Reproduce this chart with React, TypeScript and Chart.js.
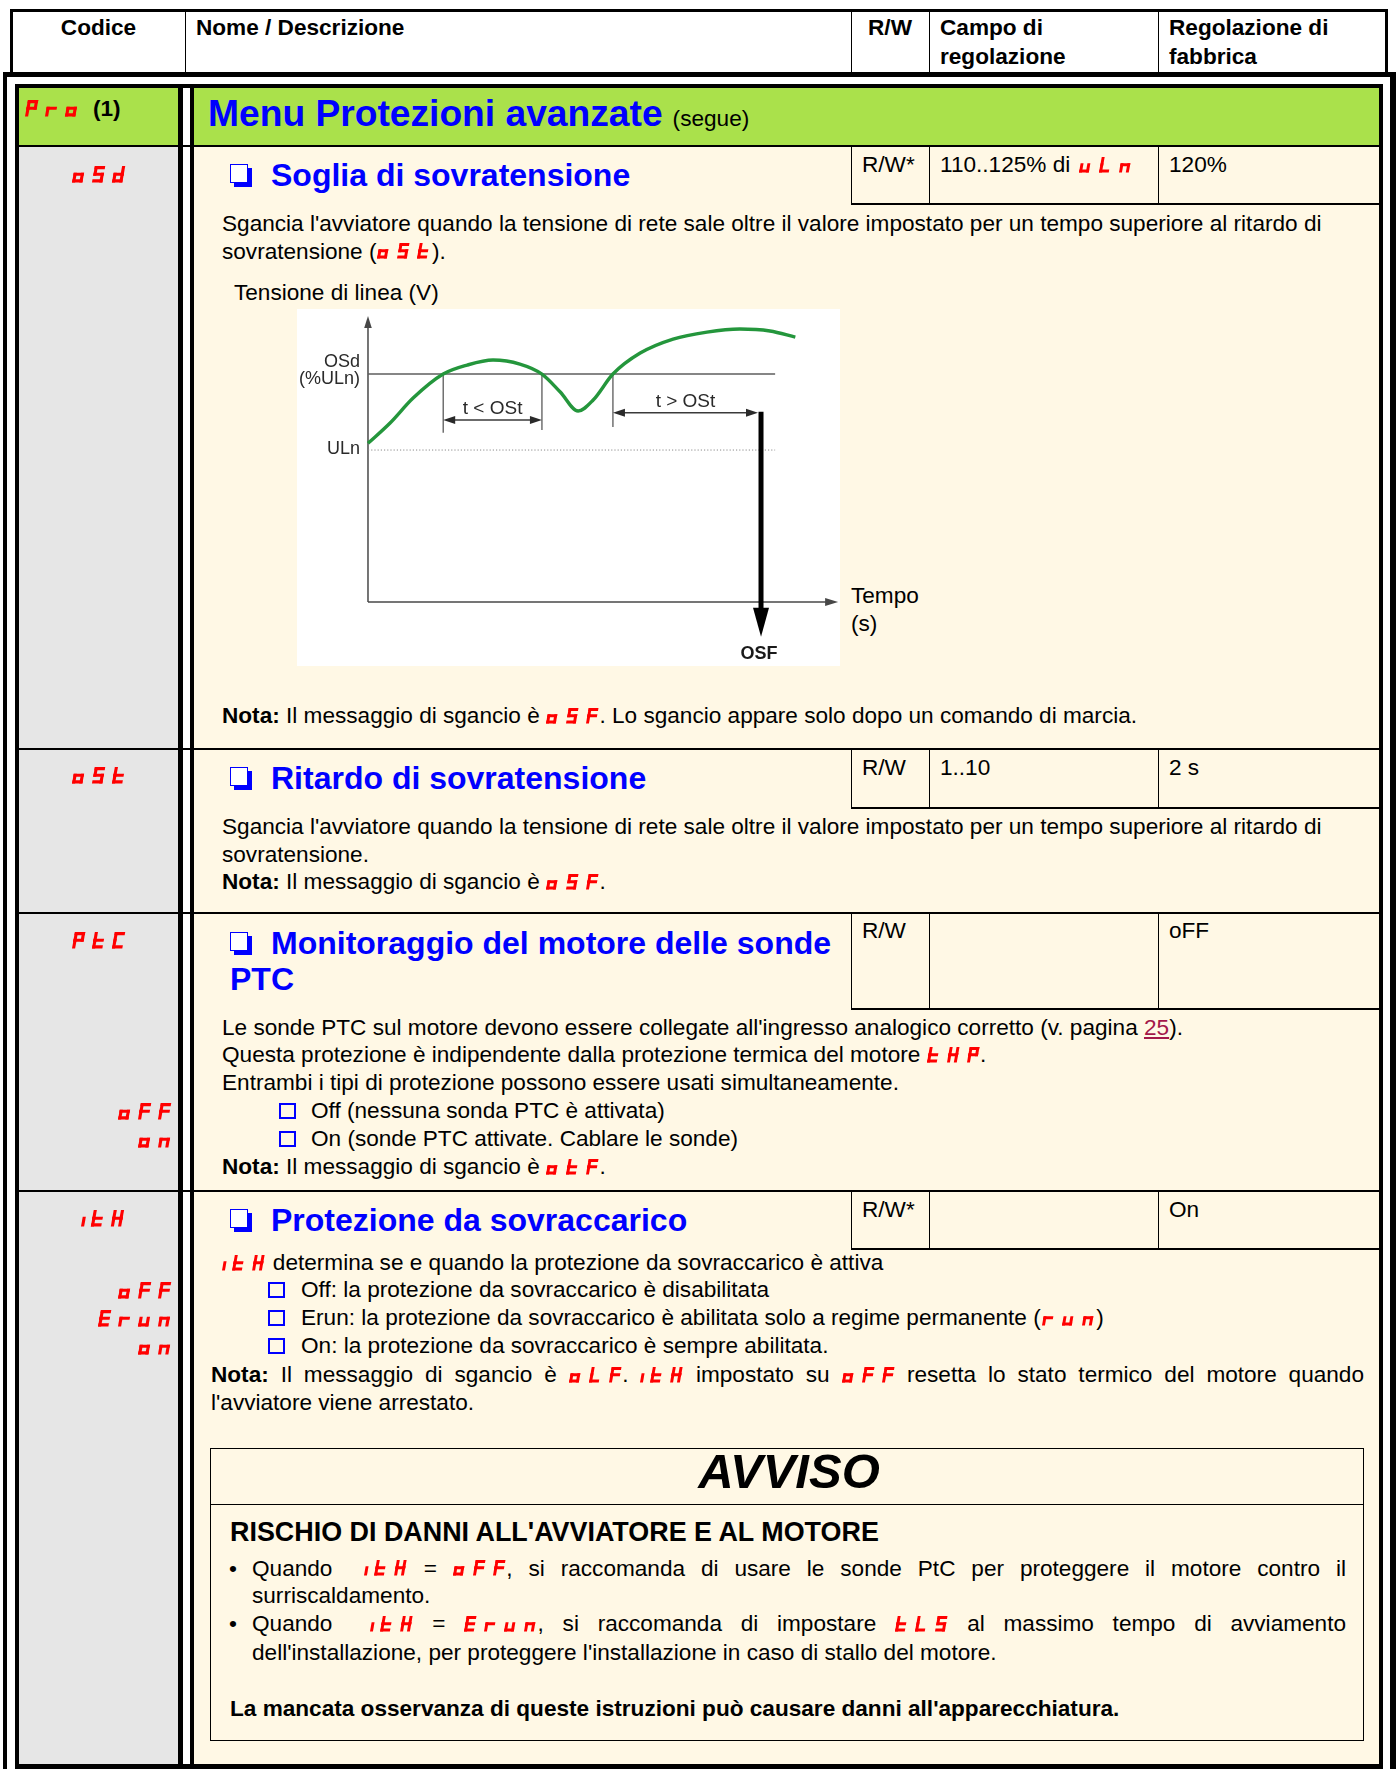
import React, { useEffect, useRef } from 'react';
import { Chart, registerables } from 'chart.js';

Chart.register(...registerables);

// ---------------- Chart data (schematic: time vs. line voltage) ----------------
const timeValues = [0, 4.7, 9.6, 16.0, 21.1, 26.6, 32.3, 37.0, 40.9, 44.7, 47.9, 52.1, 57.9, 64.9, 72.1, 79.1, 85.5, 90.9];
const voltageValues = [104.4, 117.8, 134.2, 150, 155.9, 159.2, 156.6, 150, 138.2, 125.7, 132.9, 150, 163.8, 173.0, 177.6, 179.6, 178.3, 174.3];
const levelNames = ['ULn', 'OSd\n(%ULn)'];
const levelValues = [100, 150];
const levelEnd = 86.6;
const crossingTimes = [16.0, 37.0, 52.1];
const crossingLow = [111.4, 113.2, 115.1];
const intervalNames = ['t < OSt', 't > OSt'];
const intervalStarts = [16.0, 52.1];
const intervalEnds = [37.0, 83.6];
const intervalLevels = [119.7, 124.5];
const tripTime = 83.6;
const tripName = 'OSF';
const tripTip = -22.8;
const timeAxisEnd = 100;
const voltAxisEnd = 188.2;
const timeRange = [-15.1, 100.4];
const voltRange = [-42.1, 192.8];

const FONT = '"Liberation Sans", Arial, Helvetica, sans-serif';
const BASE = 22.6;

function head(ctx: CanvasRenderingContext2D, x: number, y: number, ang: number, len: number, hw: number) {
  ctx.save();
  ctx.translate(x, y);
  ctx.rotate(ang);
  ctx.beginPath();
  ctx.moveTo(0, 0);
  ctx.lineTo(-len, -hw);
  ctx.lineTo(-len, hw);
  ctx.closePath();
  ctx.fill();
  ctx.restore();
}

function seg(ctx: CanvasRenderingContext2D, x1: number, y1: number, x2: number, y2: number) {
  ctx.beginPath();
  ctx.moveTo(x1, y1);
  ctx.lineTo(x2, y2);
  ctx.stroke();
}

const diagramPlugin = {
  id: 'diagram',
  beforeDatasetsDraw(chart: any) {
    const { ctx } = chart;
    const X = (v: number) => chart.scales.x.getPixelForValue(v);
    const Y = (v: number) => chart.scales.y.getPixelForValue(v);
    ctx.save();
    ctx.strokeStyle = '#474747';
    ctx.fillStyle = '#474747';
    ctx.lineWidth = 1.5;
    seg(ctx, X(0), Y(0), X(0), Y(voltAxisEnd) + 10);
    head(ctx, X(0), Y(voltAxisEnd), -Math.PI / 2, 12, 3.8);
    seg(ctx, X(0), Y(0), X(timeAxisEnd) - 10, Y(0));
    head(ctx, X(timeAxisEnd), Y(0), 0, 13, 4);
    ctx.strokeStyle = '#5a5a5a';
    ctx.lineWidth = 1.3;
    crossingTimes.forEach((t, i) => seg(ctx, X(t), Y(levelValues[1]), X(t), Y(crossingLow[i])));
    ctx.restore();
  },
  afterDatasetsDraw(chart: any) {
    const { ctx } = chart;
    const X = (v: number) => chart.scales.x.getPixelForValue(v);
    const Y = (v: number) => chart.scales.y.getPixelForValue(v);
    ctx.save();
    ctx.strokeStyle = '#3a3a3a';
    ctx.fillStyle = '#2a2a2a';
    ctx.lineWidth = 1.5;
    intervalStarts.forEach((s, i) => {
      const e = intervalEnds[i];
      const yy = Y(intervalLevels[i]);
      const endX = i === 1 ? X(e) - 3 : X(e);
      seg(ctx, X(s) + 4, yy, endX - 4, yy);
      head(ctx, X(s), yy, Math.PI, 12, 4);
      head(ctx, endX, yy, 0, 12, 4);
      ctx.font = `19px ${FONT}`;
      ctx.textAlign = 'center';
      ctx.textBaseline = 'alphabetic';
      ctx.fillText(intervalNames[i], (X(s) + endX) / 2, yy - 6);
    });
    ctx.fillStyle = '#000';
    ctx.strokeStyle = '#000';
    ctx.lineWidth = 5;
    seg(ctx, X(tripTime), Y(intervalLevels[1]) - 1, X(tripTime), Y(tripTip) - 26);
    head(ctx, X(tripTime), Y(tripTip), Math.PI / 2, 29, 8);
    ctx.font = `bold 18px ${FONT}`;
    ctx.textAlign = 'center';
    ctx.textBaseline = 'middle';
    ctx.fillStyle = '#1a1a1a';
    ctx.fillText(tripName, X(tripTime) - 2, Y(tripTip) + 17);
    ctx.font = `18px ${FONT}`;
    ctx.textAlign = 'right';
    ctx.fillStyle = '#2a2a2a';
    levelValues.forEach((v, i) => {
      const parts = levelNames[i].split('\n');
      if (parts.length === 1) {
        ctx.fillText(parts[0], X(0) - 8, Y(v) - 1);
      } else {
        ctx.fillText(parts[0], X(0) - 8, Y(v) - 12);
        ctx.fillText(parts[1], X(0) - 8, Y(v) + 5);
      }
    });
    ctx.restore();
  },
};

function VoltageChart() {
  const ref = useRef<HTMLCanvasElement>(null);
  useEffect(() => {
    const canvas = ref.current;
    if (!canvas) return;
    const curve = timeValues.map((t, i) => ({ x: t, y: voltageValues[i] }));
    const chart = new Chart(canvas, {
      type: 'scatter',
      data: {
        datasets: [
          {
            data: curve,
            showLine: true,
            borderColor: '#24963c',
            borderWidth: 3.4,
            pointRadius: 0,
            cubicInterpolationMode: 'monotone',
            fill: false,
          } as any,
          {
            data: [{ x: 0, y: levelValues[1] }, { x: levelEnd, y: levelValues[1] }],
            showLine: true,
            borderColor: '#5e5e5e',
            borderWidth: 1.5,
            pointRadius: 0,
          } as any,
          {
            data: [{ x: 0, y: levelValues[0] }, { x: levelEnd, y: levelValues[0] }],
            showLine: true,
            borderColor: '#8a8a8a',
            borderWidth: 1,
            borderDash: [1.2, 2],
            pointRadius: 0,
          } as any,
        ],
      },
      options: {
        responsive: false,
        animation: false,
        devicePixelRatio: 1,
        events: [],
        layout: { padding: 0 },
        scales: {
          x: { type: 'linear', min: timeRange[0], max: timeRange[1], display: false },
          y: { type: 'linear', min: voltRange[0], max: voltRange[1], display: false },
        },
        plugins: { legend: { display: false }, tooltip: { enabled: false } },
      },
      plugins: [diagramPlugin],
    });
    return () => chart.destroy();
  }, []);
  return (
    <canvas
      ref={ref}
      width={543}
      height={357}
      style={{ position: 'absolute', left: 297, top: 309, width: 543, height: 357, background: '#fff' }}
    />
  );
}

// ---------------- Seven-segment display codes ----------------
const SEGMAP: Record<string, string> = {
  P: 'abefg', r: 'eg', o: 'cdeg', S: 'acdfg', d: 'bcdeg', t: 'defg', C: 'adef', H: 'bcefg',
  F: 'aefg', n: 'ceg', u: 'cde', L: 'def', E: 'adefg', i: 'e',
};

function Seg({ code, h = 15.5, gapK = 0.66, style }: { code: string; h?: number; gapK?: number; style?: React.CSSProperties }) {
  const W = h * 0.63;
  const T = h * 0.19;
  const gap = h * gapK;
  const slant = h * Math.tan((10 * Math.PI) / 180);
  const half = h / 2;
  let x = 0;
  const rects: React.ReactNode[] = [];
  let k = 0;
  for (const ch of code) {
    const defs: Record<string, number[]> = {
      a: [0, 0, W, T],
      b: [W - T, 0, T, half + T / 2],
      c: [W - T, half - T / 2, T, half + T / 2],
      d: [0, h - T, W, T],
      e: [0, half - T / 2, T, half + T / 2],
      f: [0, 0, T, half + T / 2],
      g: [0, half - T / 2, W, T],
    };
    for (const s of SEGMAP[ch] || '') {
      const [rx, ry, rw, rh] = defs[s];
      rects.push(<rect key={k++} x={x + rx} y={ry} width={rw} height={rh} />);
    }
    x += ch === 'i' ? T + gap * 0.7 : W + gap;
  }
  const width = x - gap + slant + 1;
  return (
    <svg
      width={width}
      height={h}
      style={{ display: 'inline-block', verticalAlign: 'baseline', overflow: 'visible', ...style }}
    >
      <g fill="#ff0000" transform={`translate(${slant} 0) skewX(-10)`}>{rects}</g>
    </svg>
  );
}

// ---------------- Layout helpers ----------------
type TP = {
  x: number; cy: number; size?: number; lh?: number; bold?: boolean; italic?: boolean;
  color?: string; w?: number; center?: boolean; right?: boolean; justify?: boolean; children?: React.ReactNode;
};

function Tx({ x, cy, size = BASE, lh = 28, bold, italic, color = '#000', w, center, right, justify, children }: TP) {
  const st: React.CSSProperties = {
    position: 'absolute', left: x, top: cy - lh / 2, fontSize: size, lineHeight: `${lh}px`,
    fontWeight: bold ? 'bold' : 'normal', fontStyle: italic ? 'italic' : 'normal', color,
    whiteSpace: 'nowrap',
  };
  if (w !== undefined) st.width = w;
  if (center) st.textAlign = 'center';
  if (right) st.textAlign = 'right';
  if (justify) {
    st.textAlign = 'justify';
    (st as any).textAlignLast = 'justify';
    st.whiteSpace = 'normal';
    st.height = lh;
    st.overflow = 'visible';
  }
  return <div style={st}>{children}</div>;
}

const Rect = ({ l, t, w, h, bg = '#000' }: { l: number; t: number; w: number; h: number; bg?: string }) => (
  <div style={{ position: 'absolute', left: l, top: t, width: w, height: h, background: bg }} />
);

const CodeBlock = ({ code, cy, x, right, h = 16.5 }: { code: string; cy: number; x?: number; right?: boolean; h?: number }) => {
  const st: React.CSSProperties = { position: 'absolute', top: cy - h / 2, height: h, lineHeight: 0 };
  if (x !== undefined) st.left = x;
  else if (right) { st.left = 19; st.width = 153; st.textAlign = 'right'; }
  else { st.left = 19; st.width = 161; st.textAlign = 'center'; }
  return <div style={st}><Seg code={code} h={h} gapK={0.58} /></div>;
};

const CheckIcon = ({ x, y }: { x: number; y: number }) => (
  <div style={{ position: 'absolute', left: x, top: y, width: 18, height: 19, boxSizing: 'border-box', border: '1.6px solid #0000ff', boxShadow: '4px 4px 0 #0000ff', background: '#fff' }} />
);

const ListBox = ({ x, cy }: { x: number; cy: number }) => (
  <div style={{ position: 'absolute', left: x, top: cy - 8, width: 17, height: 16, boxSizing: 'border-box', border: '2px solid #0000ff' }} />
);

const Heading = ({ x, cy, children }: { x: number; cy: number; children: React.ReactNode }) => (
  <Tx x={x} cy={cy} size={32} lh={36} bold color="#0000ff">{children}</Tx>
);

const rows = [
  { top: 146, sub: 204 },
  { top: 749, sub: 808 },
  { top: 913, sub: 1009 },
  { top: 1191, sub: 1249 },
];

const CREAM = '#fff8e5';
const GRAY = '#e6e6e6';
const GREEN = '#aae14b';

const Nota = () => <b>Nota:</b>;

export default function App() {
  return (
    <div style={{ position: 'absolute', left: 0, top: 0, width: 1396, height: 1769, overflow: 'hidden', background: '#fff', fontFamily: FONT, color: '#000' }}>
      {/* header table */}
      <Rect l={10} t={9} w={1378} h={2.5} />
      <Rect l={10} t={9} w={2.5} h={64} />
      <Rect l={1385} t={9} w={3} h={64} />
      {[184.5, 850.5, 928.5, 1157.5].map((x) => <Rect key={x} l={x} t={11} w={1.5} h={62} />)}
      <Tx x={12} w={173} cy={28} bold center>Codice</Tx>
      <Tx x={196} cy={28} bold>Nome / Descrizione</Tx>
      <Tx x={851} w={78} cy={28} bold center>R/W</Tx>
      <Tx x={940} cy={28} bold>Campo di</Tx>
      <Tx x={940} cy={56.5} bold>regolazione</Tx>
      <Tx x={1169} cy={28} bold>Regolazione di</Tx>
      <Tx x={1169} cy={56.5} bold>fabbrica</Tx>

      {/* outer frame */}
      <Rect l={3} t={72} w={1393} h={4.5} />
      <Rect l={3} t={72} w={4.3} h={1697} />
      <Rect l={1390} t={72} w={6} h={1697} />

      {/* inner frame backgrounds */}
      <Rect l={19} t={88} w={159} h={1676} bg={GRAY} />
      <Rect l={194} t={88} w={1185} h={1676} bg={CREAM} />
      <Rect l={19} t={88} w={159} h={58} bg={GREEN} />
      <Rect l={194} t={88} w={1185} h={58} bg={GREEN} />
      <Rect l={15} t={84} w={1368} h={4.3} />
      <Rect l={15} t={84} w={4.3} h={1685} />
      <Rect l={1379} t={84} w={4.3} h={1685} />
      <Rect l={15} t={1764} w={1368} h={5} />
      <Rect l={178} t={84} w={5} h={1685} />
      <Rect l={190} t={84} w={4.3} h={1685} />

      {/* row separators & value sub-tables */}
      {rows.map((r) => (
        <React.Fragment key={r.top}>
          <Rect l={19} t={r.top - 0.75} w={1360} h={1.5} />
          {[850.5, 928.5, 1157.5].map((x) => <Rect key={x} l={x} t={r.top} w={1.5} h={r.sub - r.top} />)}
          <Rect l={850.5} t={r.sub - 0.75} w={529} h={1.5} />
        </React.Fragment>
      ))}

      {/* title row */}
      <CodeBlock code="Pro" cy={108.5} x={25} />
      <Tx x={93} cy={108.5} bold>(1)</Tx>
      <div style={{ position: 'absolute', left: 208, top: 90.5, lineHeight: '44px', whiteSpace: 'nowrap' }}>
        <span style={{ fontSize: 37.2, fontWeight: 'bold', color: '#0000ff' }}>Menu Protezioni avanzate</span>
        <span style={{ fontSize: BASE, marginLeft: 10 }}>(segue)</span>
      </div>

      {/* oSd */}
      <CodeBlock code="oSd" cy={174} />
      <CheckIcon x={230} y={164} />
      <Heading x={271} cy={175}>Soglia di sovratensione</Heading>
      <Tx x={862} cy={165}>R/W*</Tx>
      <Tx x={940} cy={165}>110..125% di <Seg code="uLn" style={{ marginLeft: 2 }} /></Tx>
      <Tx x={1169} cy={165}>120%</Tx>
      <Tx x={222} cy={224}>Sgancia l'avviatore quando la tensione di rete sale oltre il valore impostato per un tempo superiore al ritardo di</Tx>
      <Tx x={222} cy={251.5}>sovratensione (<Seg code="oSt" style={{ margin: '0 1px' }} />).</Tx>
      <Tx x={234} cy={292.5}>Tensione di linea (V)</Tx>
      <VoltageChart />
      <Tx x={851} cy={596}>Tempo</Tx>
      <Tx x={851} cy={624}>(s)</Tx>
      <Tx x={222} cy={716}><Nota /> Il messaggio di sgancio è <Seg code="oSF" />. Lo sgancio appare solo dopo un comando di marcia.</Tx>

      {/* oSt */}
      <CodeBlock code="oSt" cy={775.5} />
      <CheckIcon x={230} y={767} />
      <Heading x={271} cy={778}>Ritardo di sovratensione</Heading>
      <Tx x={862} cy={767.5}>R/W</Tx>
      <Tx x={940} cy={767.5}>1..10</Tx>
      <Tx x={1169} cy={767.5}>2 s</Tx>
      <Tx x={222} cy={827}>Sgancia l'avviatore quando la tensione di rete sale oltre il valore impostato per un tempo superiore al ritardo di</Tx>
      <Tx x={222} cy={854.5}>sovratensione.</Tx>
      <Tx x={222} cy={882}><Nota /> Il messaggio di sgancio è <Seg code="oSF" />.</Tx>

      {/* PtC */}
      <CodeBlock code="PtC" cy={940} />
      <CheckIcon x={230} y={931.5} />
      <Heading x={271} cy={942.5}>Monitoraggio del motore delle sonde</Heading>
      <Heading x={230} cy={979}>PTC</Heading>
      <Tx x={862} cy={930.5}>R/W</Tx>
      <Tx x={1169} cy={930.5}>oFF</Tx>
      <Tx x={222} cy={1027.5}>Le sonde PTC sul motore devono essere collegate all'ingresso analogico corretto (v. pagina <span style={{ color: '#a3174a', textDecoration: 'underline' }}>25</span>).</Tx>
      <Tx x={222} cy={1055}>Questa protezione è indipendente dalla protezione termica del motore <Seg code="tHP" />.</Tx>
      <Tx x={222} cy={1083}>Entrambi i tipi di protezione possono essere usati simultaneamente.</Tx>
      <ListBox x={279} cy={1111} />
      <Tx x={311} cy={1111}>Off (nessuna sonda PTC è attivata)</Tx>
      <ListBox x={279} cy={1139} />
      <Tx x={311} cy={1139}>On (sonde PTC attivate. Cablare le sonde)</Tx>
      <Tx x={222} cy={1167}><Nota /> Il messaggio di sgancio è <Seg code="otF" />.</Tx>
      <CodeBlock code="oFF" cy={1111.5} right />
      <CodeBlock code="on" cy={1139.5} right />

      {/* ItH */}
      <CodeBlock code="itH" cy={1218} x={81} />
      <CheckIcon x={230} y={1208.5} />
      <Heading x={271} cy={1219.5}>Protezione da sovraccarico</Heading>
      <Tx x={862} cy={1210}>R/W*</Tx>
      <Tx x={1169} cy={1210}>On</Tx>
      <Tx x={222} cy={1263}><Seg code="itH" style={{ marginRight: 1 }} /> determina se e quando la protezione da sovraccarico è attiva</Tx>
      <ListBox x={268} cy={1290} />
      <Tx x={301} cy={1290}>Off: la protezione da sovraccarico è disabilitata</Tx>
      <ListBox x={268} cy={1318} />
      <Tx x={301} cy={1318}>Erun: la protezione da sovraccarico è abilitata solo a regime permanente (<Seg code="run" style={{ margin: '0 1px' }} />)</Tx>
      <ListBox x={268} cy={1346} />
      <Tx x={301} cy={1346}>On: la protezione da sovraccarico è sempre abilitata.</Tx>
      <Tx x={211} cy={1375} w={1153} justify><Nota /> Il messaggio di sgancio è <Seg code="oLF" />. <Seg code="itH" /> impostato su <Seg code="oFF" /> resetta lo stato termico del motore quando</Tx>
      <Tx x={211} cy={1403}>l'avviatore viene arrestato.</Tx>
      <CodeBlock code="oFF" cy={1290} right />
      <CodeBlock code="Erun" cy={1318} right />
      <CodeBlock code="on" cy={1346} right />

      {/* AVVISO box */}
      <div style={{ position: 'absolute', left: 210, top: 1448, width: 1154, height: 293, boxSizing: 'border-box', border: '1.5px solid #000' }} />
      <Rect l={210} t={1503.5} w={1154} h={1.5} />
      <Tx x={210} w={1158} cy={1471} size={49} lh={52} bold italic center>AVVISO</Tx>
      <Tx x={230} cy={1531.5} size={26.9} lh={30} bold>RISCHIO DI DANNI ALL'AVVIATORE E AL MOTORE</Tx>
      <Tx x={229} cy={1568.5}>•</Tx>
      <Tx x={252} cy={1568.5} w={1094} justify>Quando &nbsp;<Seg code="itH" /> = <Seg code="oFF" />, si raccomanda di usare le sonde PtC per proteggere il motore contro il</Tx>
      <Tx x={252} cy={1596}>surriscaldamento.</Tx>
      <Tx x={229} cy={1624}>•</Tx>
      <Tx x={252} cy={1624} w={1094} justify>Quando &nbsp;<Seg code="itH" /> = <Seg code="Erun" />, si raccomanda di impostare <Seg code="tLS" /> al massimo tempo di avviamento</Tx>
      <Tx x={252} cy={1652.5}>dell'installazione, per proteggere l'installazione in caso di stallo del motore.</Tx>
      <Tx x={230} cy={1708.5} bold>La mancata osservanza di queste istruzioni può causare danni all'apparecchiatura.</Tx>
    </div>
  );
}
